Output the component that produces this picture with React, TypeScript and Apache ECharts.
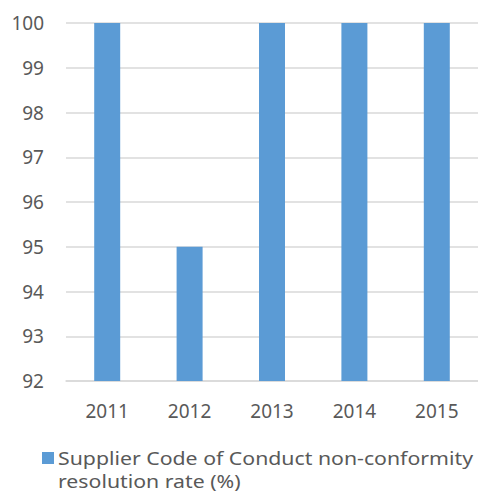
import React, { useEffect, useRef } from "react";
import * as echarts from "echarts";

const categories = ["2011", "2012", "2013", "2014", "2015"];
const values = [100, 95, 100, 100, 100];
const seriesName = "Supplier Code of Conduct non-conformity\nresolution rate (%)";
const yMin = 92;
const yMax = 100;

export default function App() {
  const ref = useRef<HTMLDivElement>(null);
  useEffect(() => {
    const chart = echarts.init(ref.current!, null, { renderer: "svg" });
    const font = "Noto Sans";
    const barColor = "#5B9BD5";
    chart.setOption({
      animation: false,
      backgroundColor: "#ffffff",
      grid: { left: 66, right: 0, top: 23, bottom: 112, containLabel: false },
      legend: { show: false },
      graphic: [
        {
          type: "rect",
          left: 42,
          top: 452,
          shape: { width: 12, height: 12 },
          style: { fill: barColor },
        },
        {
          type: "text",
          x: 58,
          y: 446,
          scaleX: 1.12,
          style: {
            text: seriesName,
            fontFamily: font,
            fontSize: 19,
            lineHeight: 23,
            fill: "#595959",
            verticalAlign: "top",
            align: "left",
          },
        },
      ],
      xAxis: {
        type: "category",
        data: categories,
        axisLine: { lineStyle: { color: "#d9d9d9", width: 1.5 } },
        axisTick: { show: false },
        axisLabel: { fontFamily: font, fontSize: 19, color: "#595959", margin: 20 },
      },
      yAxis: {
        type: "value",
        min: yMin,
        max: yMax,
        interval: 1,
        axisLine: { show: false },
        axisTick: { show: false },
        splitLine: { lineStyle: { color: "#d9d9d9", width: 1.5 } },
        axisLabel: { fontFamily: font, fontSize: 19, color: "#595959", margin: 22 },
      },
      series: [
        {
          name: seriesName,
          type: "bar",
          data: values,
          barWidth: 26,
          itemStyle: { color: barColor },
        },
      ],
    });
    return () => chart.dispose();
  }, []);
  return (
    <div
      ref={ref}
      style={{ position: "absolute", left: 0, top: 0, width: 478, height: 493 }}
    />
  );
}
